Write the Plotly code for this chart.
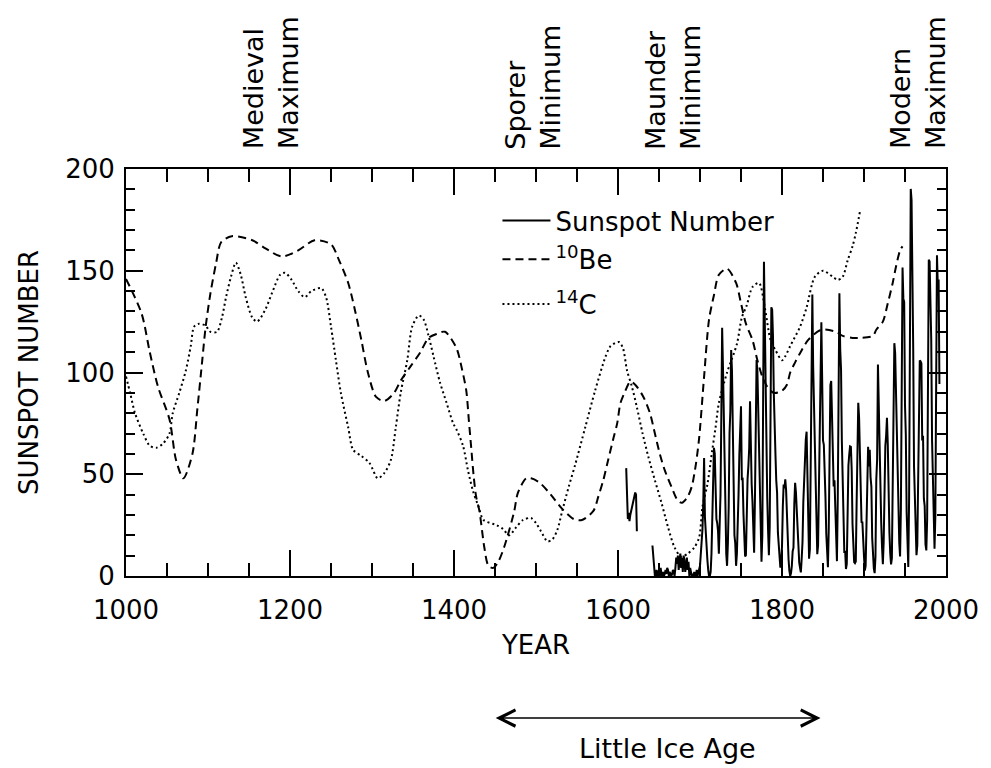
import plotly.graph_objects as go

# ---------------- data ----------------
# Sunspot number (yearly), 1610-1992; None = no observations
sunspot_start = 1610
sunspot_values = [
    53, 40, 28, 31, 27, 30, 32, 34, 36, 38,            # 1610
    40, 41, 40, 22, None, None, None, None, None, None,  # 1620
    None, None, None, None, None, None, None, None, None, None,  # 1630
    None, None, 15, 10, 2, 0, 0, 3, 0, 2,              # 1640
    3, 0, 4, 1, 0, 2, 0, 1, 3, 1,                      # 1650
    4, 3, 0, 2, 1, 0, 1, 3, 2, 0,                      # 1660
    4, 9, 6, 10, 3, 8, 11, 4, 9, 2,                    # 1670
    10, 8, 2, 5, 9, 3, 7, 0, 4, 2,                     # 1680
    0, 1, 0, 2, 0, 0, 3, 0, 2, 4,                      # 1690
    5, 11, 16, 23, 36, 58, 29, 20, 10, 8,              # 1700
    3, 0, 0, 2, 11, 27, 47, 63, 60, 39,                # 1710
    28, 26, 22, 11, 21, 40, 78, 122, 103, 73,          # 1720
    47, 35, 11, 5, 16, 34, 70, 81, 111, 101,           # 1730
    73, 40, 20, 16, 5, 11, 22, 40, 60, 80.9,           # 1740
    83.4, 47.7, 47.8, 30.7, 12.2, 9.6, 10.2, 32.4, 47.6, 54.0,   # 1750
    62.9, 85.9, 61.2, 45.1, 36.4, 20.9, 11.4, 37.8, 69.8, 106.1, # 1760
    100.8, 81.6, 66.5, 34.8, 30.6, 7.0, 19.8, 92.5, 154.4, 125.9, # 1770
    84.8, 68.1, 38.5, 22.8, 10.2, 24.1, 82.9, 132.0, 130.9, 118.1, # 1780
    89.9, 66.6, 60.0, 46.9, 41.0, 21.3, 16.0, 6.4, 4.1, 6.8,      # 1790
    14.5, 34.0, 45.0, 43.1, 47.5, 42.2, 28.1, 10.1, 8.1, 2.5,     # 1800
    0.0, 1.4, 5.0, 12.2, 13.9, 35.4, 45.8, 41.1, 30.1, 23.9,      # 1810
    15.6, 6.6, 4.0, 1.8, 8.5, 16.6, 36.3, 49.6, 64.2, 67.0,       # 1820
    70.9, 47.8, 27.5, 8.5, 13.2, 56.9, 121.5, 138.3, 103.2, 85.7, # 1830
    64.6, 36.7, 24.2, 10.7, 15.0, 40.1, 61.5, 98.5, 124.7, 96.3,  # 1840
    66.6, 64.5, 54.1, 39.0, 20.6, 6.7, 4.3, 22.7, 54.8, 93.8,     # 1850
    95.8, 77.2, 59.1, 44.0, 47.0, 30.5, 16.3, 7.3, 37.6, 74.0,    # 1860
    139.0, 111.2, 101.6, 66.2, 44.7, 17.0, 11.3, 12.4, 3.4, 6.0,  # 1870
    32.3, 54.3, 59.7, 63.7, 63.5, 52.2, 25.4, 13.1, 6.8, 6.3,     # 1880
    7.1, 35.6, 73.0, 85.1, 78.0, 64.0, 41.8, 26.2, 26.7, 12.1,    # 1890
    9.5, 2.7, 5.0, 24.4, 42.0, 63.5, 53.8, 62.0, 48.5, 43.9,      # 1900
    18.6, 5.7, 3.6, 1.4, 9.6, 47.4, 57.1, 103.9, 80.6, 63.6,      # 1910
    37.6, 26.1, 14.2, 5.8, 16.7, 44.3, 63.9, 69.0, 77.8, 64.9,    # 1920
    35.7, 21.2, 11.1, 5.7, 8.7, 36.1, 79.7, 114.4, 109.6, 88.8,   # 1930
    67.8, 47.5, 30.6, 16.3, 9.6, 33.2, 92.6, 151.6, 136.3, 134.7, # 1940
    83.9, 69.4, 31.5, 13.9, 4.4, 38.0, 141.7, 190.2, 184.8, 159.0, # 1950
    112.3, 53.9, 37.6, 27.9, 10.2, 15.1, 47.0, 93.8, 105.9, 105.5, # 1960
    104.5, 66.6, 68.9, 38.0, 34.5, 15.5, 12.6, 27.5, 92.5, 155.4, # 1970
    154.6, 140.4, 115.9, 66.6, 45.9, 17.9, 13.4, 29.4, 100.2, 157.6, # 1980
    142.6, 145.7, 94.3,                                            # 1990
]
sunspot_years = [sunspot_start + i for i in range(len(sunspot_values))]

# 10Be (dashed)
be10_years = [1000, 1019, 1029, 1039, 1053, 1061, 1070, 1081, 1087, 1093, 1097,
              1103, 1110, 1116, 1129, 1154, 1170, 1190, 1210, 1230, 1250, 1260,
              1271, 1279, 1287, 1295, 1305, 1315, 1327, 1335, 1347, 1359, 1369,
              1379, 1389, 1403, 1409, 1415, 1418, 1421, 1424, 1427, 1431, 1434,
              1437, 1442, 1448, 1454, 1461, 1473, 1478, 1488, 1494, 1504, 1518,
              1532, 1546, 1556, 1570, 1576, 1582, 1588, 1594, 1599, 1603, 1609,
              1615, 1621, 1631, 1639, 1645, 1651, 1657, 1665, 1673, 1678, 1685,
              1690, 1695, 1699, 1705, 1711, 1717, 1723, 1733, 1744, 1750, 1756,
              1764, 1770, 1776, 1782, 1790, 1800, 1806, 1810, 1816, 1822, 1832,
              1848, 1866, 1874, 1886, 1896, 1911, 1915, 1923, 1929, 1935, 1939,
              1944, 1947]
be10_values = [146, 129, 110, 93, 77, 57, 48, 60, 82, 106, 122,
               139, 154, 164, 167, 165, 161, 157, 160, 165, 163, 155,
               144, 131, 116, 100, 88, 86, 90, 96, 103, 110, 117,
               119, 120, 112, 103, 91, 77, 63, 49, 39, 32, 23,
               14, 5, 4, 7, 14, 31, 41, 48, 48, 46, 40,
               33, 28, 27.5, 32, 39, 47, 57, 67, 75, 85, 91,
               95.5, 94, 88, 80, 70, 60, 52, 44, 37, 36, 39,
               44, 55, 68, 98, 126, 138, 148, 151, 144, 134, 124,
               116, 106, 98, 93, 90, 91, 94, 100, 105, 109.5, 116,
               121, 120, 118, 117, 117, 118, 121, 125, 134, 144, 152,
               160, 162]

# 14C (dotted)
c14_years = [1000, 1005, 1011, 1021, 1029, 1037, 1045, 1053, 1057, 1065, 1073,
             1079, 1083, 1089, 1097, 1103, 1111, 1117, 1122, 1128, 1134, 1140,
             1146, 1154, 1160, 1170, 1178, 1188, 1194, 1202, 1210, 1218, 1226,
             1238, 1244, 1250, 1256, 1262, 1271, 1277, 1287, 1297, 1307, 1315,
             1323, 1329, 1335, 1343, 1349, 1357, 1363, 1369, 1375, 1383, 1391,
             1399, 1403, 1411, 1417, 1423, 1430, 1436, 1452, 1460, 1467, 1476,
             1484, 1494, 1500, 1506, 1514, 1520, 1526, 1532, 1540, 1548, 1560,
             1572, 1585, 1591, 1601, 1606, 1611, 1617, 1623, 1630, 1637, 1645,
             1653, 1661, 1669, 1677, 1685, 1693, 1699, 1703, 1709, 1715, 1719,
             1723, 1733, 1745, 1751, 1757, 1764, 1772, 1779, 1786, 1792, 1800,
             1804, 1810, 1822, 1830, 1840, 1850, 1862, 1868, 1874, 1880, 1886,
             1890, 1895]
c14_values = [98, 90, 80, 70, 64, 63, 65, 70, 80, 90, 101,
              113, 122.5, 124, 123, 120, 120, 127, 137, 147, 154, 148,
              137, 127, 125, 131, 139, 148, 149, 145.5, 140, 137, 140,
              141.5, 137, 122.5, 106, 90, 73, 62, 59, 55.5, 48, 50.6,
              57, 73, 90, 106, 122.5, 128, 126, 118, 108, 95, 85,
              75, 72, 64, 52, 42, 34, 27.5, 25, 23, 20, 24,
              27.5, 28.5, 26, 22, 17, 18, 22.6, 32, 44, 55, 73,
              91, 108, 113, 115, 112, 101, 93, 83, 70, 58.6, 47,
              36, 24, 14, 9.5, 11, 14, 19, 34, 45, 62, 73,
              85, 100, 114, 127, 133, 142, 144, 132, 116, 111, 106,
              108, 113, 122.5, 132, 147, 150, 147, 145.5, 147, 155, 162,
              168.5, 179]

# period labels
period_labels = ["Medieval<br>Maximum", "Sporer<br>Minimum", "Maunder<br>Minimum", "Modern<br>Maximum"]
period_years = [1177, 1496, 1667, 1966]
ice_age_span = [1449, 1847]

FONT = "DejaVu Sans"
FS = 26

fig = go.Figure()
fig.add_trace(go.Scatter(x=sunspot_years, y=sunspot_values, mode="lines",
                         name="Sunspot Number", connectgaps=False, legend="legend",
                         line=dict(color="black", width=2)))
fig.add_trace(go.Scatter(x=be10_years, y=be10_values, mode="lines",
                         name="<sup>10</sup>Be", legend="legend2",
                         line=dict(color="black", width=2, dash="8px,5px",
                                   shape="spline", smoothing=0.8)))
fig.add_trace(go.Scatter(x=c14_years, y=c14_values, mode="lines",
                         name="<sup>14</sup>C", legend="legend3",
                         line=dict(color="black", width=2, dash="2px,3px",
                                   shape="spline", smoothing=0.8)))

axis_common = dict(showline=True, linewidth=2, linecolor="black", mirror="ticks",
                   showgrid=False, zeroline=False, ticks="inside", tickcolor="black",
                   tickwidth=2, tickfont=dict(family=FONT, size=FS, color="black"))

fig.update_xaxes(range=[1000, 2000], tick0=1000, dtick=200, ticklen=26,
                 ticklabelstandoff=10,
                 minor=dict(dtick=50, ticks="inside", ticklen=13, tickwidth=2,
                            tickcolor="black"),
                 title=dict(text="YEAR", standoff=12,
                            font=dict(family=FONT, size=FS, color="black")),
                 **axis_common)
fig.update_yaxes(range=[0, 200], tick0=0, dtick=50, ticklen=17,
                 ticklabelstandoff=4,
                 minor=dict(dtick=10, ticks="inside", ticklen=9, tickwidth=2,
                            tickcolor="black"),
                 title=dict(text="SUNSPOT NUMBER", standoff=19,
                            font=dict(family=FONT, size=FS, color="black")),
                 **axis_common)

annotations = []
for lab, yr in zip(period_labels, period_years):
    annotations.append(dict(x=yr, xref="x", y=1.043, yref="paper", text=lab,
                            textangle=-90, showarrow=False, xanchor="center",
                            yanchor="bottom", align="left",
                            font=dict(family=FONT, size=27, color="black")))
annotations.append(dict(x=ice_age_span[1], xref="x", y=-0.349, yref="paper",
                        ax=ice_age_span[0], axref="x", ay=0, ayref="pixel",
                        text="", showarrow=True, arrowside="end+start",
                        arrowhead=5, startarrowhead=5, arrowsize=2,
                        startarrowsize=2, arrowwidth=1.6, arrowcolor="black",
                        standoff=0, startstandoff=0))
annotations.append(dict(x=sum(ice_age_span) / 2 + 12, xref="x", y=-0.423, yref="paper",
                        yanchor="middle", text="Little Ice Age", showarrow=False,
                        font=dict(family=FONT, size=27, color="black")))

legend_common = dict(xanchor="left", yanchor="middle", bgcolor="rgba(0,0,0,0)",
                     font=dict(family=FONT, size=FS, color="black"), itemwidth=48)

fig.update_layout(
    width=991, height=768,
    margin=dict(l=126, r=37, t=169, b=192),
    paper_bgcolor="white", plot_bgcolor="white",
    font=dict(family=FONT, size=FS, color="black"),
    showlegend=True,
    legend=dict(x=0.453, y=0.873, **legend_common),
    legend2=dict(x=0.453, y=0.778, **legend_common),
    legend3=dict(x=0.453, y=0.668, **legend_common),
    annotations=annotations,
)

fig.write_html("out.html")
